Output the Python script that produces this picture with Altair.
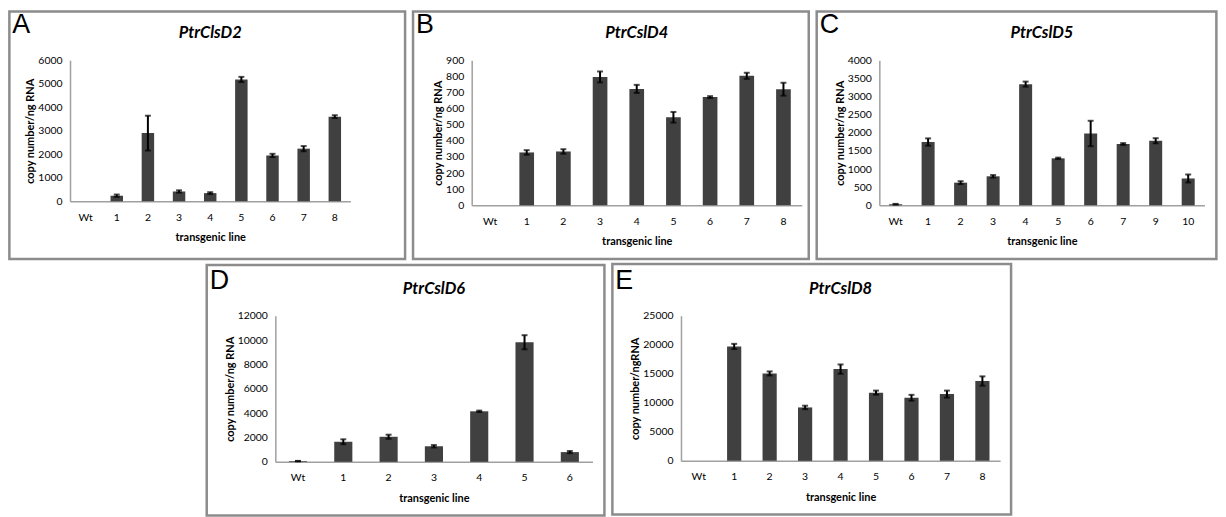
import altair as alt
import pandas as pd

# ---- data ----
cats_a = ["Wt", "1", "2", "3", "4", "5", "6", "7", "8"]
vals_a = [0, 240, 2900, 420, 350, 5180, 1950, 2240, 3600]
errs_a = [0, 50, 740, 50, 40, 110, 70, 110, 60]

cats_b = ["Wt", "1", "2", "3", "4", "5", "6", "7", "8"]
vals_b = [0, 328, 334, 796, 722, 546, 671, 803, 720]
errs_b = [0, 14, 14, 34, 25, 33, 6, 19, 40]

cats_c = ["Wt", "1", "2", "3", "4", "5", "6", "7", "9", "10"]
vals_c = [30, 1745, 625, 800, 3340, 1295, 1980, 1690, 1780, 740]
errs_c = [10, 100, 40, 35, 70, 20, 350, 25, 70, 110]

cats_d = ["Wt", "1", "2", "3", "4", "5", "6"]
vals_d = [60, 1650, 2060, 1280, 4150, 9820, 800]
errs_d = [20, 200, 170, 100, 60, 580, 90]

cats_e = ["Wt", "1", "2", "3", "4", "5", "6", "7", "8"]
vals_e = [0, 19700, 15050, 9200, 15800, 11750, 10870, 11500, 13750]
errs_e = [0, 450, 350, 300, 800, 350, 500, 600, 800]

BAR = "#404040"
BORDER = "#8c8c8c"
FONT = "Lato"


def panel(cats, vals, errs, title, letter, ymax, ystep, ytitle,
          w, h, left, right, top, bottom):
    df = pd.DataFrame({"cat": cats, "val": vals, "err": errs})
    df["lo"] = df["val"] - df["err"]
    df["hi"] = df["val"] + df["err"]
    base = alt.Chart(df)
    xscale = alt.Scale(paddingInner=0.6, paddingOuter=0.3)
    xaxis = alt.Axis(title="transgenic line", labelAngle=0, labelPadding=11,
                     titlePadding=9, grid=False, ticks=False)
    yscale = alt.Scale(domain=[0, ymax], nice=False)
    yaxis = alt.Axis(title=ytitle, values=list(range(0, ymax + 1, ystep)),
                     format="d", labelPadding=8, titlePadding=2,
                     grid=False, ticks=False)

    def X():
        return alt.X("cat:N", sort=cats, scale=xscale, axis=xaxis)

    bars = base.mark_bar(color=BAR).encode(
        x=X(), y=alt.Y("val:Q", scale=yscale, axis=yaxis))
    eb = base.transform_filter("datum.err > 0")
    rule = eb.mark_rule(color="black", strokeWidth=2).encode(
        x=X(), y=alt.Y("lo:Q", scale=yscale, axis=yaxis), y2="hi:Q")
    cap_lo = eb.mark_tick(color="black", thickness=2, size=6).encode(
        x=X(), y=alt.Y("lo:Q", scale=yscale, axis=yaxis))
    cap_hi = eb.mark_tick(color="black", thickness=2, size=6).encode(
        x=X(), y=alt.Y("hi:Q", scale=yscale, axis=yaxis))

    deco = alt.Chart(pd.DataFrame({"t": [title], "l": [letter]}))
    border = deco.mark_rect(fillOpacity=0, stroke=BORDER, strokeWidth=2.5).encode(
        x=alt.value(left), x2=alt.value(w + right),
        y=alt.value(top), y2=alt.value(h + bottom))
    ttl = deco.mark_text(font=FONT, fontStyle="italic", fontWeight="bold",
                         fontSize=16.5, align="center", baseline="alphabetic",
                         color="black").encode(
        text="t:N", x=alt.value(w / 2), y=alt.value(-22))
    let = deco.mark_text(font="Liberation Sans", fontSize=27, align="left",
                         baseline="top", color="black").encode(
        text="l:N", x=alt.value(left + 3), y=alt.value(-48))

    return alt.layer(border, bars, rule, cap_lo, cap_hi, ttl, let).properties(
        width=w, height=h)


pa = panel(cats_a, vals_a, errs_a, "PtrClsD2", "A", 6000, 1000,
           "copy number/ng RNA", 282, 142, -61, 55, -49, 58)
pb = panel(cats_b, vals_b, errs_b, "PtrCslD4", "B", 900, 100,
           "copy number/ng RNA", 332, 146, -59, 7, -49, 54)
pc = panel(cats_c, vals_c, errs_c, "PtrCslD5", "C", 4000, 500,
           "copy number/ng RNA", 327, 146, -63, 12, -49, 54)
pd_ = panel(cats_d, vals_d, errs_d, "PtrCslD6", "D", 12000, 2000,
            "copy number/ng RNA", 319, 147, -69, 12, -51, 54)
pe = panel(cats_e, vals_e, errs_e, "PtrCslD8", "E", 25000, 5000,
           "copy number/ngRNA", 321, 146, -69, 11, -52, 54)

row1 = alt.hconcat(pa, pb, pc, spacing=4)
row2 = alt.hconcat(pd_, pe, spacing=4)

chart = alt.vconcat(row1, row2, spacing=1, center=True).properties(
    padding={"left": 0, "top": 0, "right": 0, "bottom": 0},
    background="white",
).configure_view(strokeWidth=0).configure_axis(
    grid=False, ticks=False, tickSize=0,
    domainColor="#a0a0a0", domainWidth=1.5,
    labelFont=FONT, labelFontSize=10.5, labelColor="black",
    titleFont=FONT, titleFontSize=11, titleFontWeight="bold", titleColor="black"
)

chart.save("out.html", embed_options={"renderer": "svg", "actions": False})
